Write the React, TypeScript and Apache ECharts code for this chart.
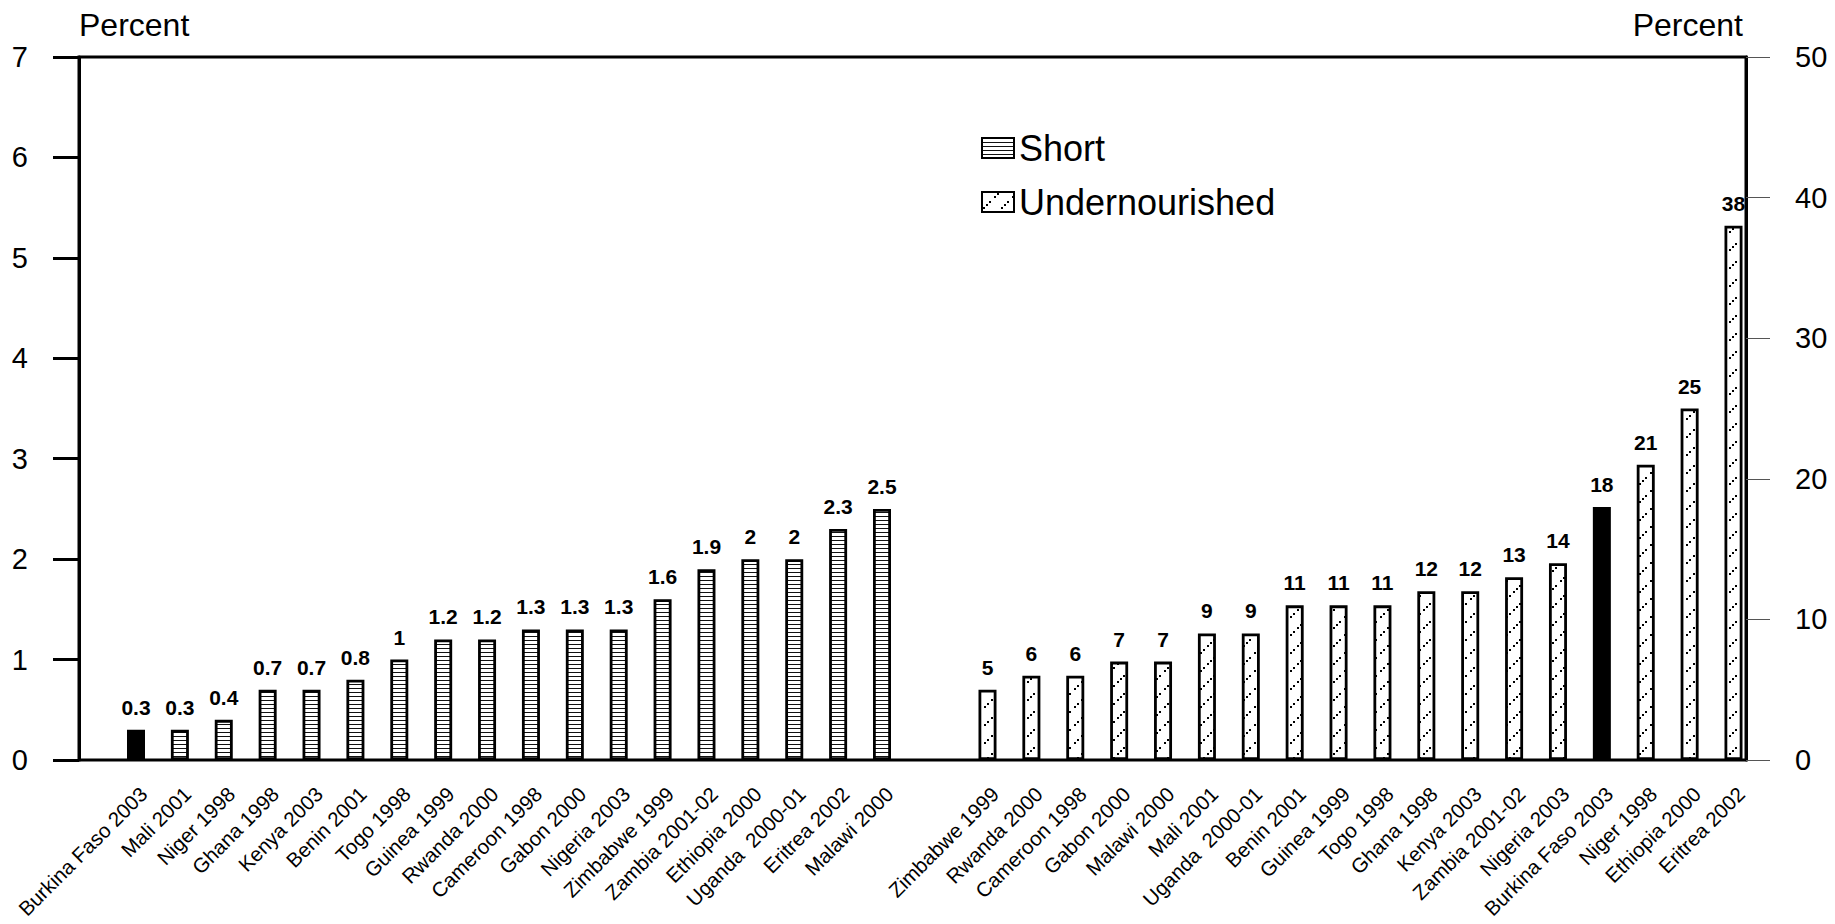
import React, { useEffect, useRef } from "react";
import * as echarts from "echarts";

const shortCategories = [
  "Burkina Faso 2003", "Mali 2001", "Niger 1998", "Ghana 1998", "Kenya 2003", "Benin 2001",
  "Togo 1998", "Guinea 1999", "Rwanda 2000", "Cameroon 1998", "Gabon 2000", "Nigeria 2003",
  "Zimbabwe 1999", "Zambia 2001-02", "Ethiopia 2000", "Uganda  2000-01", "Eritrea 2002", "Malawi 2000",
];
const shortValues = [0.3, 0.3, 0.4, 0.7, 0.7, 0.8, 1, 1.2, 1.2, 1.3, 1.3, 1.3, 1.6, 1.9, 2, 2, 2.3, 2.5];

const underCategories = [
  "Zimbabwe 1999", "Rwanda 2000", "Cameroon 1998", "Gabon 2000", "Malawi 2000", "Mali 2001",
  "Uganda  2000-01", "Benin 2001", "Guinea 1999", "Togo 1998", "Ghana 1998", "Kenya 2003",
  "Zambia 2001-02", "Nigeria 2003", "Burkina Faso 2003", "Niger 1998", "Ethiopia 2000", "Eritrea 2002",
];
const underValues = [5, 6, 6, 7, 7, 9, 9, 11, 11, 11, 12, 12, 13, 14, 18, 21, 25, 38];

const leftTicks = { min: 0, max: 7, interval: 1 };
const rightTicks = { min: 0, max: 50, interval: 10 };
const highlighted = "Burkina Faso 2003";

const FONT = "'Liberation Sans', Arial, Helvetica, sans-serif";

function stripePattern() {
  const c = document.createElement("canvas");
  c.width = 4;
  c.height = 4;
  const ctx = c.getContext("2d")!;
  ctx.fillStyle = "#fff";
  ctx.fillRect(0, 0, 4, 4);
  ctx.fillStyle = "#111";
  ctx.fillRect(0, 0, 4, 1);
  return { image: c.toDataURL(), repeat: "repeat", imageWidth: 4, imageHeight: 4 };
}

function dotPattern() {
  const s = 18;
  const c = document.createElement("canvas");
  c.width = s;
  c.height = s;
  const ctx = c.getContext("2d")!;
  ctx.fillStyle = "#fff";
  ctx.fillRect(0, 0, s, s);
  ctx.fillStyle = "#000";
  const dots = [[1, 15], [4, 12], [7, 9], [12, 4], [15, 1]];
  dots.forEach(([x, y]) => ctx.fillRect(x, y, 2, 2));
  return { image: c.toDataURL(), repeat: "repeat", imageWidth: s, imageHeight: s };
}

export default function App() {
  const ref = useRef<HTMLDivElement>(null);
  useEffect(() => {
    document.body.style.margin = "0";
    document.body.style.overflow = "hidden";
    const chart = echarts.init(ref.current!, null, { renderer: "svg" });
    const stripes = stripePattern();
    const dots = dotPattern();

    const catAxis = (gridIndex: number, data: string[]) => ({
      type: "category",
      gridIndex,
      data,
      boundaryGap: false,
      axisLine: { show: false },
      axisTick: { show: false },
      splitLine: { show: false },
      axisLabel: {
        interval: 0,
        rotate: 45,
        margin: 23,
        fontSize: 20.5,
        verticalAlign: "top",
        color: "#000",
        fontFamily: FONT,
      },
    });

    const labelStyle = {
      show: true,
      position: "top",
      distance: 12,
      fontSize: 21,
      fontWeight: "bold",
      color: "#000",
      fontFamily: FONT,
    };

    const gridBase = { top: 57, bottom: 164, containLabel: false, outerBoundsMode: "none" };

    chart.setOption({
      animation: false,
      backgroundColor: "#fff",
      textStyle: { fontFamily: FONT },
      legend: {
        orient: "vertical",
        left: 976,
        top: 125,
        itemWidth: 32,
        itemHeight: 20,
        itemGap: 18,
        icon: "rect",
        textStyle: { fontSize: 36, color: "#000", fontFamily: FONT },
        data: ["Short", "Undernourished"],
      },
      grid: [
        { ...gridBase, left: 79, right: 89, show: true, borderColor: "#000", borderWidth: 3, backgroundColor: "transparent" },
        { ...gridBase, left: 136, right: 1835 - 882 },
        { ...gridBase, left: 987.5, right: 1835 - 1733.5 },
      ],
      xAxis: [
        { type: "value", gridIndex: 0, show: false, min: 0, max: 1 },
        catAxis(1, shortCategories),
        catAxis(2, underCategories),
      ],
      yAxis: [
        {
          type: "value",
          gridIndex: 0,
          position: "left",
          ...leftTicks,
          name: "Percent",
          nameLocation: "end",
          nameGap: 32,
          nameTextStyle: { fontSize: 32, color: "#000", align: "left", verticalAlign: "middle", fontFamily: FONT },
          axisLine: { show: true, lineStyle: { color: "#000", width: 3 } },
          axisTick: { show: true, length: 26, lineStyle: { color: "#000", width: 3 } },
          axisLabel: { fontSize: 29, color: "#000", margin: 51, fontFamily: FONT },
          splitLine: { show: false },
        },
        {
          type: "value",
          gridIndex: 0,
          position: "right",
          ...rightTicks,
          name: "Percent",
          nameLocation: "end",
          nameGap: 32,
          nameTextStyle: { fontSize: 32, color: "#000", align: "right", verticalAlign: "middle", fontFamily: FONT, padding: [0, 3, 0, 0] },
          axisLine: { show: true, lineStyle: { color: "#000", width: 3 } },
          axisTick: { show: true, length: 24, lineStyle: { color: "#555", width: 1 } },
          axisLabel: { fontSize: 29, color: "#000", margin: 49, fontFamily: FONT },
          splitLine: { show: false },
        },
        { type: "value", gridIndex: 1, ...leftTicks, show: false, splitLine: { show: false } },
        { type: "value", gridIndex: 2, ...rightTicks, show: false, splitLine: { show: false } },
      ],
      series: [
        {
          name: "Short",
          type: "bar",
          xAxisIndex: 1,
          yAxisIndex: 2,
          barWidth: 18,
          clip: false,
          itemStyle: { color: stripes, borderColor: "#000", borderWidth: 2.8 },
          label: labelStyle,
          data: shortValues.map((v, i) =>
            shortCategories[i] === highlighted ? { value: v, itemStyle: { color: "#000" } } : v
          ),
        },
        {
          name: "Undernourished",
          type: "bar",
          xAxisIndex: 2,
          yAxisIndex: 3,
          barWidth: 18,
          clip: false,
          itemStyle: { color: dots, borderColor: "#000", borderWidth: 2.8 },
          label: labelStyle,
          data: underValues.map((v, i) =>
            underCategories[i] === highlighted ? { value: v, itemStyle: { color: "#000" } } : v
          ),
        },
      ],
    });
    return () => chart.dispose();
  }, []);
  return <div ref={ref} style={{ width: 1835, height: 924 }} />;
}
